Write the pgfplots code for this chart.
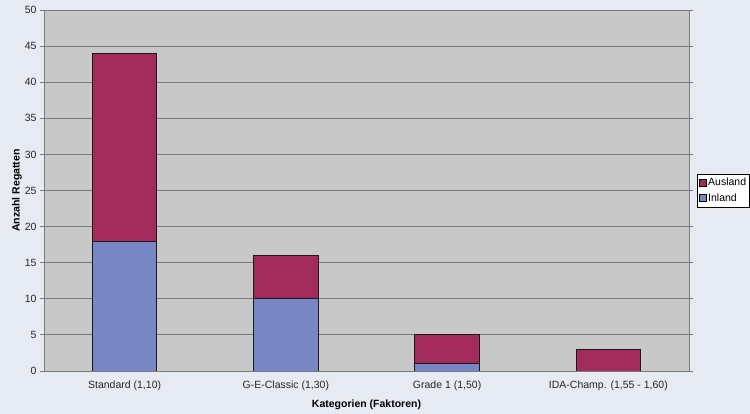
\documentclass[border=0pt]{standalone}
\usepackage{fontspec}
\setmainfont{Liberation Sans}
\usepackage{pgfplots}
\pgfplotsset{compat=1.18}
\definecolor{bgout}{HTML}{E6EAF2}
\definecolor{bgplot}{HTML}{C8C8C8}
\definecolor{gridc}{HTML}{7A7A7A}
\definecolor{ausland}{HTML}{A32B5C}
\definecolor{inland}{HTML}{7886C5}
\begin{document}
\begin{tikzpicture}
\path[use as bounding box, fill=bgout] (0,0) rectangle (750pt,414pt);
\begin{axis}[
  at={(44pt,43pt)}, anchor=south west,
  scale only axis, width=645pt, height=361pt,
  ybar stacked, bar width=0.4,
  xmin=-0.5, xmax=3.5, ymin=0, ymax=50,
  ytick distance=5,
  xtick={0,1,2,3},
  xticklabels={Standard (1{,}10), G-E-Classic (1{,}30), Grade 1 (1{,}50), IDA-Champ. (1{,}55 - 1{,}60)},
  major x tick style={draw=none},
  extra x ticks={-0.5,0.5,1.5,2.5,3.5},
  extra x tick labels={},
  extra x tick style={tick style={draw=gridc, line width=0.8pt}, major tick length=4pt, tick align=outside, grid=none},
  tick align=outside,
  major tick length=4pt,
  ymajorgrids, grid style={gridc, line width=0.8pt},
  y tick style={gridc, line width=0.8pt},
  axis line style={gridc, line width=0.8pt},
  axis background/.style={fill=bgplot},
  /pgf/number format/assume math mode=true,
  tick label style={font=\fontsize{10.5}{12}\selectfont, text=black!85},
  xticklabel style={yshift=-2pt},
  xlabel={\bfseries Kategorien (Faktoren)},
  ylabel={\bfseries Anzahl Regatten},
  label style={font=\fontsize{10.5}{12}\selectfont\bfseries},
  xlabel style={yshift=5pt},
  ylabel style={yshift=-4pt},
  reverse legend,
  legend style={at={(1.0124,0.5)}, anchor=west, draw=black, fill=white,
    font=\fontsize{10.5}{12}\selectfont, inner xsep=1.5pt, inner ysep=2.5pt, row sep=2pt,
    /tikz/every even column/.append style={column sep=0pt}},
  legend image code/.code={\draw[#1, draw=black, line width=0.5pt] (0pt,-3.5pt) rectangle (7pt,3.5pt);},
  legend cell align=left,
]
\addplot[fill=inland, draw=black!90, line width=0.8pt] coordinates {(0,18) (1,10) (2,1) (3,0)};
\addplot[fill=ausland, draw=black!90, line width=0.8pt] coordinates {(0,26) (1,6) (2,4) (3,3)};
\legend{Inland, Ausland}
\end{axis}
\end{tikzpicture}
\end{document}
